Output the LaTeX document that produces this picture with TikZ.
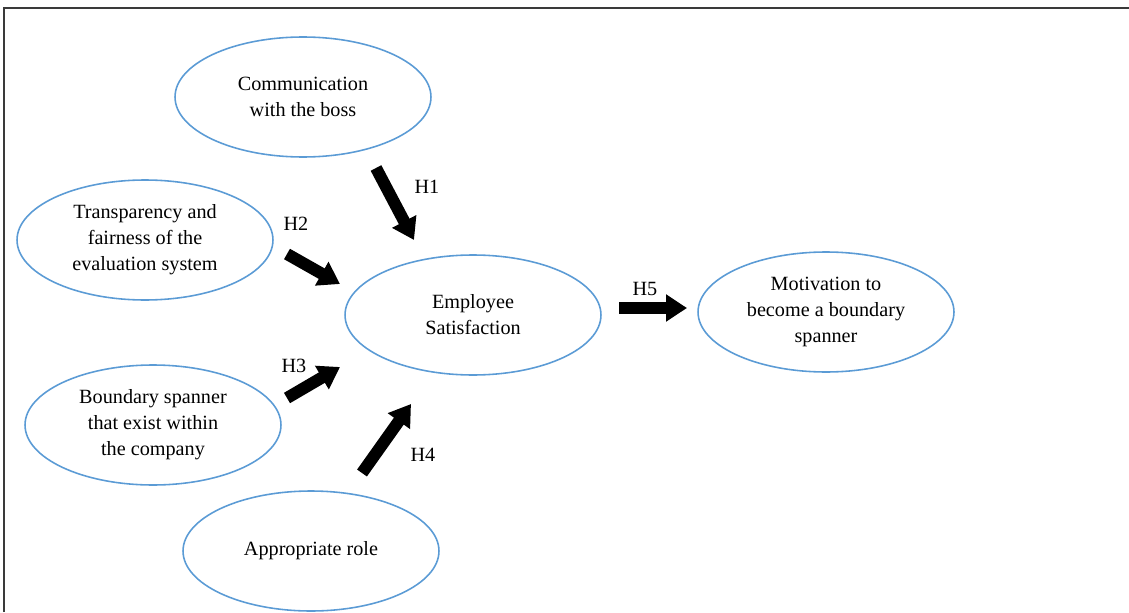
\documentclass[tikz,border=0pt]{standalone}
\usepackage{fontspec}
\setmainfont{Liberation Serif}
\usetikzlibrary{arrows.meta, positioning, shapes.geometric}
\definecolor{cblue}{HTML}{5B9BD5}
\definecolor{cframe}{HTML}{3A3A3A}
\tikzset{
  every picture/.style={line width=0.9pt},
  factor/.style={ellipse, draw=cblue, line width=0.9pt, minimum width=5.12cm, minimum height=2.4cm, align=center, font=\fontsize{11.5}{14.8}\selectfont},
  bigarrow/.style={-{Triangle[length=0.42cm, width=0.52cm]}, draw=black, line width=0.24cm},
  hyp/.style={font=\fontsize{11.5}{14}\selectfont},
}
\begin{document}
\begin{tikzpicture}[x=0.02cm, y=-0.02cm]
  \useasboundingbox (0,0) rectangle (1129,612);
  % frame
  \draw[cframe, line width=1.4pt] (4,612) -- (4,8) -- (1129,8);
  % factors
  \node[factor] (comm) at (303,97) {Communication\\with the boss};
  \node[factor] (eval) at (145,240) {Transparency and\\fairness of the\\evaluation system};
  \node[factor] (sat) at (473,315) {Employee\\Satisfaction};
  \node[factor] (span) at (153,425) {Boundary spanner\\that exist within\\the company};
  \node[factor] (role) at (311,551) {Appropriate role};
  \node[factor] (motiv) at (826,312) {Motivation to\\become a boundary\\spanner};
  % arrow ends
  \coordinate (h1s) at (376,168); \coordinate (h1e) at (414,240);
  \coordinate (h2s) at (287,254); \coordinate (h2e) at (340,284);
  \coordinate (h3s) at (287,398); \coordinate (h3e) at (340,367);
  \coordinate (h4s) at (362,473); \coordinate (h4e) at (411,404);
  \coordinate (h5s) at (619,308); \coordinate (h5e) at (687,308);
  \draw[bigarrow] (h1s) -- (h1e);
  \draw[bigarrow] (h2s) -- (h2e);
  \draw[bigarrow] (h3s) -- (h3e);
  \draw[bigarrow] (h4s) -- (h4e);
  \draw[bigarrow] (h5s) -- (h5e);
  % hypotheses
  \node[hyp] (lh1) at (427,187) {H1};
  \node[hyp] (lh2) at (296,224) {H2};
  \node[hyp] (lh3) at (294,366) {H3};
  \node[hyp] (lh4) at (423,455) {H4};
  \node[hyp] (lh5) at (645,289) {H5};
\end{tikzpicture}
\end{document}
